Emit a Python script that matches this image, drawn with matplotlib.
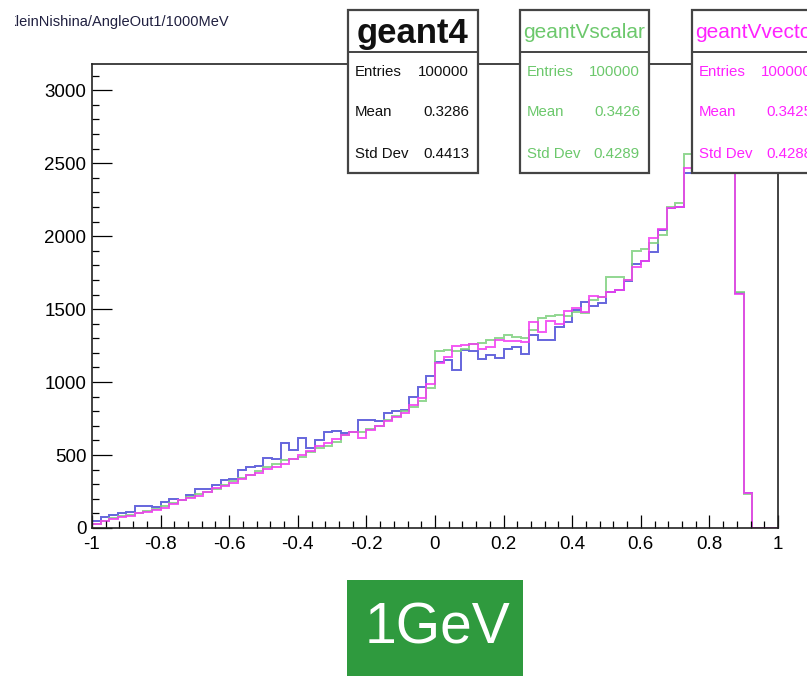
import numpy as np
import matplotlib
matplotlib.use("Agg")
import matplotlib.pyplot as plt
from matplotlib.patches import Rectangle
from matplotlib.lines import Line2D
from matplotlib.transforms import Bbox

plt.rcParams['font.family'] = ['Liberation Sans', 'DejaVu Sans']

# cos(theta) of the outgoing photon, 80 bins on [-1, 1]
bin_edges = np.linspace(-1.0, 1.0, 81)

geant4 = [
    45, 75, 90, 100, 110, 150, 152, 145, 175, 200,
    192, 226, 265, 270, 295, 330, 335, 400, 418, 425,
    479, 470, 580, 535, 615, 550, 600, 655, 665, 650,
    655, 740, 740, 730, 790, 805, 810, 900, 965, 1040,
    1140, 1150, 1080, 1220, 1215, 1160, 1185, 1164, 1225, 1240,
    1190, 1320, 1290, 1290, 1375, 1410, 1495, 1550, 1520, 1545,
    1615, 1630, 1690, 1810, 1830, 1890, 2040, 2190, 2200, 2430,
    2600, 2750, 2850, 2950, 3030, 1610, 240, 0, 0, 0,
]

geantv_scalar = [
    30, 50, 70, 80, 90, 105, 115, 130, 150, 170,
    190, 210, 230, 250, 270, 295, 320, 340, 365, 390,
    415, 440, 465, 470, 490, 520, 545, 560, 590, 640,
    660, 660, 680, 700, 740, 770, 800, 830, 870, 960,
    1210, 1220, 1210, 1230, 1260, 1270, 1290, 1300, 1320, 1310,
    1300, 1360, 1440, 1450, 1460, 1450, 1480, 1475, 1560, 1580,
    1720, 1720, 1700, 1900, 1910, 1950, 2010, 2200, 2230, 2560,
    2620, 2760, 2870, 2960, 3020, 1615, 235, 0, 0, 0,
]

geantv_vector = [
    30, 50, 65, 75, 85, 100, 110, 125, 140, 165,
    190, 205, 220, 245, 275, 290, 310, 335, 360, 380,
    405, 420, 440, 470, 500, 530, 560, 580, 610, 640,
    655, 620, 670, 700, 730, 760, 790, 840, 890, 990,
    1130, 1170, 1250, 1255, 1260, 1230, 1240, 1290, 1280, 1280,
    1275, 1410, 1340, 1420, 1400, 1490, 1510, 1480, 1590, 1585,
    1620, 1630, 1700, 1790, 1830, 1990, 2050, 2190, 2200, 2470,
    2610, 2740, 2860, 2940, 3010, 1605, 240, 0, 0, 0,
]

x_ticks = [-1.0, -0.8, -0.6, -0.4, -0.2, 0.0, 0.2, 0.4, 0.6, 0.8, 1.0]
x_tick_labels = ["-1", "-0.8", "-0.6", "-0.4", "-0.2", "0", "0.2", "0.4", "0.6", "0.8", "1"]
y_ticks = [0, 500, 1000, 1500, 2000, 2500, 3000]
y_tick_labels = ["0", "500", "1000", "1500", "2000", "2500", "3000"]

stats = [
    ("geant4", "100000", "0.3286", "0.4413"),
    ("geantVscalar", "100000", "0.3426", "0.4289"),
    ("geantVvector", "100000", "0.3425", "0.4288"),
]

W, H = 807, 676
fig = plt.figure(figsize=(W / 100, H / 100), dpi=100)


def fx(px):
    return px / W


def fy(py):
    return 1 - py / H


ax = fig.add_axes([fx(92), fy(528), fx(778) - fx(92), fy(64) - fy(528)])

colors = ["#4b4bd6", "#7fd07f", "#f23cf2"]
for vals, c in zip([geant4, geantv_scalar, geantv_vector], colors):
    ax.stairs(vals, bin_edges, color=c, lw=1.4, alpha=0.85)

ax.set_xlim(-1, 1)
ax.set_ylim(0, 3180)
ax.set_xticks(x_ticks)
ax.set_xticklabels(x_tick_labels)
ax.set_yticks(y_ticks)
ax.set_yticklabels(y_tick_labels)
ax.set_xticks(np.arange(-1, 1.0001, 0.04), minor=True)
ax.set_yticks(np.arange(0, 3180, 100), minor=True)
ax.tick_params(axis='x', which='major', direction='in', length=9.4, width=0.9, labelsize=13.5, pad=6)
ax.tick_params(axis='x', which='minor', direction='in', length=5, width=0.9)
ax.tick_params(axis='y', which='major', direction='in', length=14.4, width=0.9, labelsize=13.5, pad=4)
ax.tick_params(axis='y', which='minor', direction='in', length=5, width=0.9)
for s in ax.spines.values():
    s.set_linewidth(1.2)
    s.set_color('#222222')

# histogram path title, clipped at the pad edge
t = fig.text(fx(7), fy(22), "KleinNishina/AngleOut1/1000MeV", fontsize=10.5,
             va='center', ha='left', color='#202040')
t.set_clip_box(Bbox.from_extents(15, 0, W, H))
t.set_clip_on(True)

# statistics boxes (the last one runs past the canvas edge)
boxes = [(348, 478), (520, 649), (692, 821)]
text_cols = ["#111111", "#6cc86c", "#ff22ff"]
for (x0, x1), (name, ent, mean, sd), tc in zip(boxes, stats, text_cols):
    fig.add_artist(Rectangle((fx(x0), fy(173)), fx(x1) - fx(x0), fy(10) - fy(173),
                             transform=fig.transFigure, facecolor='white',
                             edgecolor='#444444', lw=1.6, zorder=5))
    fig.add_artist(Line2D([fx(x0), fx(x1)], [fy(52), fy(52)], transform=fig.transFigure,
                          color='#444444', lw=1.4, zorder=6))
    cx = (x0 + x1) / 2
    if name == "geant4":
        fig.text(fx(cx), fy(33), name, fontsize=25, fontweight='bold', color=tc,
                 ha='center', va='center', zorder=7)
    else:
        fig.text(fx(cx), fy(33), name, fontsize=15, color=tc,
                 ha='center', va='center', zorder=7)
    for row_y, lab, val in [(72, "Entries", ent), (112, "Mean", mean), (154, "Std Dev", sd)]:
        fig.text(fx(x0 + 7), fy(row_y), lab, fontsize=10.8, color=tc,
                 ha='left', va='center', zorder=7)
        fig.text(fx(x1 - 9), fy(row_y), val, fontsize=10.8, color=tc,
                 ha='right', va='center', zorder=7)

# energy label
fig.add_artist(Rectangle((fx(347), fy(690)), fx(523) - fx(347), fy(580) - fy(690),
                         transform=fig.transFigure, facecolor='#2f9a3e',
                         edgecolor='none', zorder=5))
fig.text(fx(437), fy(628), "1GeV", fontsize=41, color='white',
         ha='center', va='center', zorder=7)

fig.savefig("out.png", dpi=100)
